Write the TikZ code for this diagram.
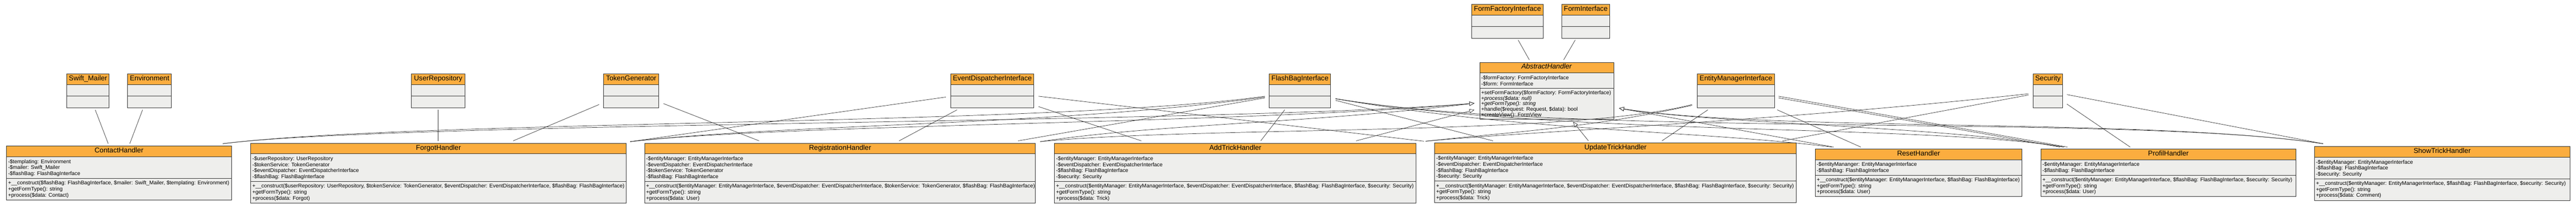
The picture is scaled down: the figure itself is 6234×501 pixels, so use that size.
\documentclass[tikz,border=0pt]{standalone}
\usepackage{fontspec}
\setmainfont{Liberation Sans}
\usetikzlibrary{arrows.meta,calc}
\definecolor{hdr}{HTML}{FBAD3F}
\definecolor{bodyc}{HTML}{EEEEEC}
\definecolor{ln}{HTML}{333333}
\newcommand\stack[2]{\vtop{\baselineskip=#1pt\lineskiplimit=-20pt\lineskip=0pt #2}}
\newcommand\row[1]{\hbox{#1}}
\def\methsp{14.5}
\tikzset{
  classframe/.style={rectangle, inner sep=0pt, outer sep=0pt},
  boxline/.style={draw=ln, line width=1.2pt},
  titletext/.style={anchor=base, inner sep=0pt, font=\fontsize{17}{20}\selectfont},
  memtext/.style={anchor=base west, inner sep=0pt, font=\fontsize{12.9}{14.5}\selectfont},
  assoc/.style={draw=ln, line width=0.9pt},
  inh/.style={assoc, -{Triangle[length=12pt,width=10pt,fill=white]}},
}
% #1 name, #2 x, #3 y, #4 width, #5 attr height, #6 method height, #7 title, #8 attrs, #9 methods
\newcommand\umlclass[9]{%
  \pgfmathsetmacro\classh{25.6+#5+#6}%
  \path (#2,#3) node[classframe, minimum width=#4pt, minimum height=\classh pt, anchor=north west] (#1) {};
  \fill[hdr] (#1.north west) rectangle ($(#1.north east)+(0,25.6)$);
  \fill[bodyc] ($(#1.north west)+(0,25.6)$) rectangle (#1.south east);
  \draw[boxline] ($(#1.north west)+(0,25.6)$) -- ($(#1.north east)+(0,25.6)$);
  \draw[boxline] ($(#1.north west)+(0,{25.6+#5})$) -- ($(#1.north east)+(0,{25.6+#5})$);
  \draw[boxline] (#1.north west) rectangle (#1.south east);
  \node[titletext] (#1-t) at ($(#1.north)+(0,16)$) {#7};
  \node[memtext] (#1-a) at ($(#1.north west)+(3.5,{25.6+15.9})$) {\stack{14.5}{#8}};
  \node[memtext] (#1-m) at ($(#1.north west)+(3.5,{25.6+#5+15.4})$) {\stack{\methsp}{#9}};
}
% #1 name, #2 x, #3 y, #4 width, #5 title
\newcommand\emptyclass[5]{%
  \path (#2,#3) node[classframe, minimum width=#4pt, minimum height=82pt, anchor=north west] (#1) {};
  \fill[hdr] (#1.north west) rectangle ($(#1.north east)+(0,25.6)$);
  \fill[bodyc] ($(#1.north west)+(0,25.6)$) rectangle (#1.south east);
  \draw[boxline] ($(#1.north west)+(0,25.6)$) -- ($(#1.north east)+(0,25.6)$);
  \draw[boxline] ($(#1.north west)+(0,53.6)$) -- ($(#1.north east)+(0,53.6)$);
  \draw[boxline] (#1.north west) rectangle (#1.south east);
  \node[titletext] (#1-t) at ($(#1.north)+(0,16)$) {#5};
}
\begin{document}
\begin{tikzpicture}[x=1pt,y=-1pt]
\useasboundingbox (0,0) rectangle (6234,501);
\fill[white] (0,0) rectangle (6234,501);

% ---------- top classes ----------
\emptyclass{swift}{162}{179}{102}{Swift\_Mailer}
\emptyclass{env}{309}{179}{106}{Environment}
\emptyclass{urepo}{996}{179}{129}{UserRepository}
\emptyclass{tokgen}{1461}{179}{133}{TokenGenerator}
\emptyclass{edi}{2301}{179}{201}{EventDispatcherInterface}
\emptyclass{flash}{3072}{179}{148}{FlashBagInterface}
\emptyclass{em}{4108}{179}{186}{EntityManagerInterface}
\emptyclass{sec}{4920}{179}{72}{Security}
\emptyclass{ffi}{3561}{11}{174}{FormFactoryInterface}
\emptyclass{fi}{3780}{11}{115}{FormInterface}

\def\methsp{13.4}
\umlclass{abs}{3581}{151}{324}{36.6}{75.4}{\textit{AbstractHandler}}
 {\row{-\$formFactory: FormFactoryInterface}\row{-\$form: FormInterface}}
 {\row{+setFormFactory(\$formFactory: FormFactoryInterface)}\row{+\textit{process(\$data: null)}}\row{+\textit{getFormType(): string}}\row{+handle(\$request: Request, \$data): bool}\row{+createView(): FormView}}
\def\methsp{14.5}

% ---------- handlers ----------
\umlclass{contact}{16}{354}{544}{52.4}{52.3}{ContactHandler}
 {\row{-\$templating: Environment}\row{-\$mailer: Swift\_Mailer}\row{-\$flashBag: FlashBagInterface}}
 {\row{+\_\_construct(\$flashBag: FlashBagInterface, \$mailer: Swift\_Mailer, \$templating: Environment)}\row{+getFormType(): string}\row{+process(\$data: Contact)}}

\umlclass{forgot}{607}{347}{908}{67}{52.4}{ForgotHandler}
 {\row{-\$userRepository: UserRepository}\row{-\$tokenService: TokenGenerator}\row{-\$eventDispatcher: EventDispatcherInterface}\row{-\$flashBag: FlashBagInterface}}
 {\row{+\_\_construct(\$userRepository: UserRepository, \$tokenService: TokenGenerator, \$eventDispatcher: EventDispatcherInterface, \$flashBag: FlashBagInterface)}\row{+getFormType(): string}\row{+process(\$data: Forgot)}}

\umlclass{reg}{1560}{347}{946}{67}{52.4}{RegistrationHandler}
 {\row{-\$entityManager: EntityManagerInterface}\row{-\$eventDispatcher: EventDispatcherInterface}\row{-\$tokenService: TokenGenerator}\row{-\$flashBag: FlashBagInterface}}
 {\row{+\_\_construct(\$entityManager: EntityManagerInterface, \$eventDispatcher: EventDispatcherInterface, \$tokenService: TokenGenerator, \$flashBag: FlashBagInterface)}\row{+getFormType(): string}\row{+process(\$data: User)}}

\umlclass{add}{2552}{347}{875}{67}{52.4}{AddTrickHandler}
 {\row{-\$entityManager: EntityManagerInterface}\row{-\$eventDispatcher: EventDispatcherInterface}\row{-\$flashBag: FlashBagInterface}\row{-\$security: Security}}
 {\row{+\_\_construct(\$entityManager: EntityManagerInterface, \$eventDispatcher: EventDispatcherInterface, \$flashBag: FlashBagInterface, \$security: Security)}\row{+getFormType(): string}\row{+process(\$data: Trick)}}

\umlclass{upd}{3472}{346}{875}{67}{52.4}{UpdateTrickHandler}
 {\row{-\$entityManager: EntityManagerInterface}\row{-\$eventDispatcher: EventDispatcherInterface}\row{-\$flashBag: FlashBagInterface}\row{-\$security: Security}}
 {\row{+\_\_construct(\$entityManager: EntityManagerInterface, \$eventDispatcher: EventDispatcherInterface, \$flashBag: FlashBagInterface, \$security: Security)}\row{+getFormType(): string}\row{+process(\$data: Trick)}}

\umlclass{reset}{4393}{361}{500}{37.6}{51.7}{ResetHandler}
 {\row{-\$entityMananger: EntityManagerInterface}\row{-\$flashBag: FlashBagInterface}}
 {\row{+\_\_construct(\$entityManager: EntityManagerInterface, \$flashBag: FlashBagInterface)}\row{+getFormType(): string}\row{+process(\$data: User)}}

\umlclass{profil}{4939}{361}{617}{37.6}{51.7}{ProfilHandler}
 {\row{-\$entityManager: EntityManagerInterface}\row{-\$flashBag: FlashBagInterface}}
 {\row{+\_\_construct(\$entityManager: EntityManagerInterface, \$flashBag: FlashBagInterface, \$security: Security)}\row{+getFormType(): string}\row{+process(\$data: User)}}

\umlclass{show}{5601}{355}{618}{52.4}{52.3}{ShowTrickHandler}
 {\row{-\$entityManager: EntityManagerInterface}\row{-\$flashBag: FlashBagInterface}\row{-\$security: Security}}
 {\row{+\_\_construct(\$entityManager: EntityManagerInterface, \$flashBag: FlashBagInterface, \$security: Security)}\row{+getFormType(): string}\row{+process(\$data: Comment)}}

% ---------- associations (straight) ----------
\draw[assoc] ($(ffi.north west)+(113,86)$) -- ($(abs.north west)+(120,-6)$);
\draw[assoc] ($(fi.north west)+(32,86)$) -- ($(abs.north west)+(203,-6)$);
\draw[assoc] ($(swift.north west)+(68.5,87)$) -- ($(contact.north west)+(246,-6)$);
\draw[assoc] ($(env.north west)+(36,87)$) -- ($(contact.north west)+(298,-6)$);
\draw[assoc] ($(urepo.north west)+(64,87)$) -- ($(forgot.north west)+(453,-6)$);
\draw[assoc] ($(tokgen.north west)+(-11,74)$) -- ($(forgot.north west)+(635,-6)$);
\draw[assoc] ($(tokgen.north west)+(145,72)$) -- ($(reg.north west)+(277,-6)$);
\draw[assoc] ($(edi.north west)+(-12,56)$) -- ($(forgot.north west)+(918,-4)$);
\draw[assoc] ($(edi.north west)+(15,87)$) -- ($(reg.north west)+(616,-6)$);
\draw[assoc] ($(edi.north west)+(212,54)$) -- ($(upd.north west)+(-26,-4)$);
\draw[assoc] ($(edi.north west)+(212,79)$) -- ($(add.north west)+(210,-6)$);
\draw[assoc] ($(flash.north west)+(-11,58)$) -- ($(reg.north west)+(904,-6)$);
\draw[assoc] ($(flash.north west)+(37,87)$) -- ($(add.north west)+(499,-6)$);
\draw[assoc] ($(flash.north west)+(160,64)$) -- ($(upd.north west)+(141,-5)$);
\draw[assoc] ($(em.north west)+(25,87)$) -- ($(upd.north west)+(550,-5)$);
\draw[assoc] ($(em.north west)+(193,87)$) -- ($(reset.north west)+(110,-5)$);
\draw[assoc] ($(em.north west)+(196,54)$) -- ($(profil.north west)+(64,-5)$);
\draw[assoc] ($(em.north west)+(196,58)$) -- ($(profil.north west)+(46,-5)$);
\draw[assoc] ($(sec.north west)+(-11,51)$) -- ($(upd.north west)+(842,-5)$);
\draw[assoc] ($(sec.north west)+(82,73)$) -- ($(profil.north west)+(216,-5)$);
\draw[assoc] ($(sec.north west)+(82,50)$) -- ($(show.north west)+(21,-7)$);

% ---------- associations (curved) ----------
\draw[assoc] ($(flash.north west)+(-11,54)$) .. controls ($(flash.north west)+(-522,126)$) and ($(contact.north west)+(984,-64)$) .. ($(contact.north west)+(523,-6)$);
\draw[assoc] ($(flash.north west)+(-11,56)$) .. controls ($(flash.north west)+(-522,126)$) and ($(forgot.north west)+(1293,-47)$) .. ($(forgot.north west)+(918,-4)$);
\draw[assoc] ($(flash.north west)+(160,60)$) .. controls ($(flash.north west)+(628,141)$) and ($(reset.north west)+(-293,-46)$) .. ($(reset.north west)+(40,-5)$);
\draw[assoc] ($(flash.north west)+(160,60)$) .. controls ($(flash.north west)+(728,151)$) and ($(profil.north west)+(-289,-61)$) .. ($(profil.north west)+(56,-5)$);
\draw[assoc] ($(flash.north west)+(160,60)$) .. controls ($(flash.north west)+(728,156)$) and ($(show.north west)+(-451,-80)$) .. ($(show.north west)+(21,-7)$);
\draw[assoc] ($(em.north west)+(-13,74)$) .. controls ($(em.north west)+(-308,151)$) and ($(reg.north west)+(1340,-42)$) .. ($(reg.north west)+(957,-4)$);
\draw[assoc] ($(em.north west)+(-13,76)$) .. controls ($(em.north west)+(-258,131)$) and ($(add.north west)+(1098,-27)$) .. ($(add.north west)+(898,-5)$);
\draw[assoc] ($(sec.north west)+(-11,48)$) .. controls ($(sec.north west)+(-620,115)$) and ($(add.north west)+(1148,-29)$) .. ($(add.north west)+(898,-5)$);

% ---------- inheritance ----------
\draw[inh] ($(contact.north west)+(523,-6)$) .. controls ($(contact.north west)+(934,-59)$) and ($(abs.north west)+(-631,149)$) .. ($(abs.north west)+(-13,99)$);
\draw[inh] ($(forgot.north west)+(918,-4)$) .. controls ($(forgot.north west)+(1293,-47)$) and ($(abs.north west)+(-581,149)$) .. ($(abs.north west)+(-13,99)$);
\draw[inh] ($(reg.north west)+(957,-4)$) .. controls ($(reg.north west)+(1240,-47)$) and ($(abs.north west)+(-431,149)$) .. ($(abs.north west)+(-13,99)$);
\draw[inh] ($(add.north west)+(730,-6)$) -- ($(abs.north west)+(-13,115)$);
\draw[inh] ($(upd.north west)+(372,-5)$) -- ($(abs.north west)+(226,144)$);
\draw[inh] ($(reset.north west)+(44,-5)$) -- ($(abs.north west)+(337,111)$);
\draw[inh] ($(profil.north west)+(54,-5)$) .. controls ($(profil.north west)+(-239,-56)$) and ($(abs.north west)+(569,149)$) .. ($(abs.north west)+(337,111)$);
\draw[inh] ($(show.north west)+(21,-7)$) .. controls ($(show.north west)+(-401,-70)$) and ($(abs.north west)+(719,169)$) .. ($(abs.north west)+(337,111)$);
\end{tikzpicture}
\end{document}
